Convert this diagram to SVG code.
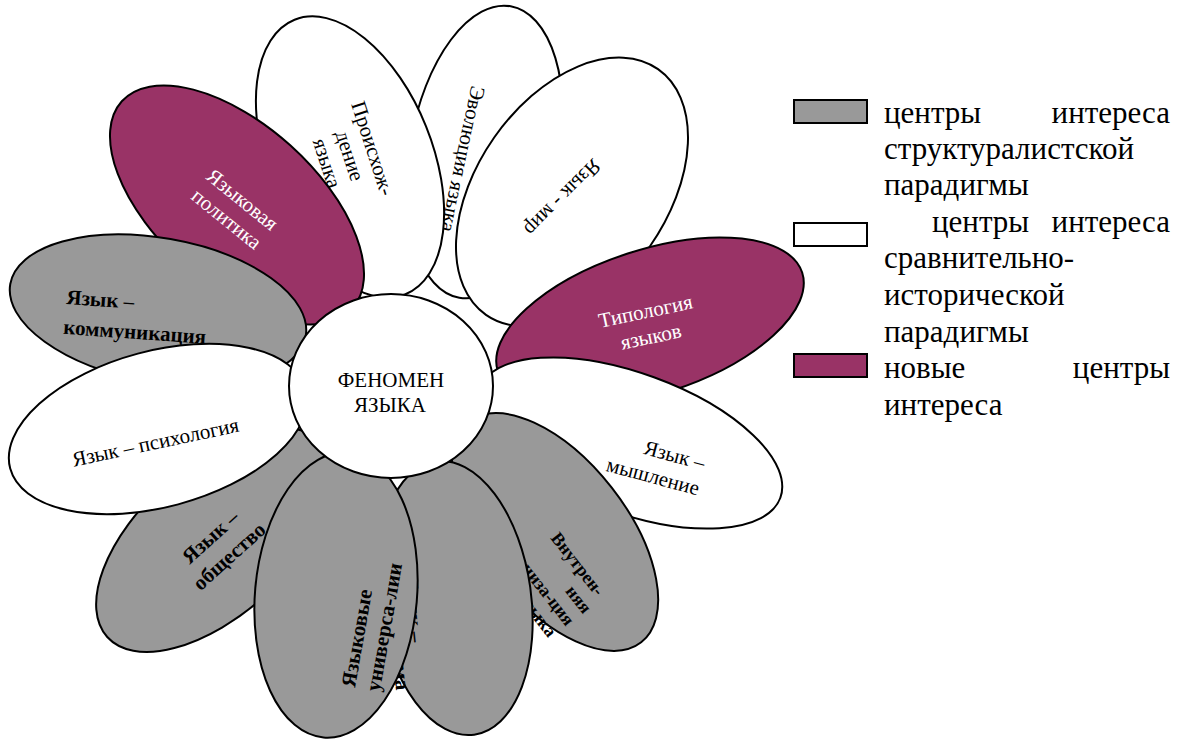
<svg xmlns="http://www.w3.org/2000/svg" width="1184" height="740" viewBox="0 0 1184 740">
<style>
.pw{fill:#ffffff;stroke:#000;stroke-width:2}
.pg{fill:#999999;stroke:#000;stroke-width:2}
.pp{fill:#993366;stroke:#000;stroke-width:2}
text{font-family:"Liberation Serif","Times New Roman",serif;fill:#000}
.t{font-size:21px}
.b{font-size:21px;font-weight:bold}
.bs{font-size:18px;font-weight:bold}
.w{fill:#ffffff}
.lg{font-size:31px}
.m{text-anchor:middle}
.e{text-anchor:end}
</style>
<rect width="1184" height="740" fill="#ffffff"/>
<g id="petals">
<g id="p-evolution">
<ellipse class="pw" cx="485" cy="152" rx="75" ry="148" transform="rotate(10 485 152)"/>
<text class="t m" transform="translate(462,159) rotate(102)" y="6">Эволюция языка</text>
</g>
<g id="p-mir">
<ellipse class="pw" cx="572" cy="192" rx="95" ry="150" transform="rotate(35 572 192)"/>
<text class="t m" transform="translate(562,197) rotate(135)" y="6">Язык - мир</text>
</g>
<g id="p-typology">
<ellipse class="pp" cx="650" cy="322" rx="160" ry="72" transform="rotate(-18 650 322)"/>
<g transform="translate(647,318) rotate(-12)"><text class="t m w" y="0">Типология</text><text class="t m w" y="26">языков</text></g>
</g>
<g id="p-thinking">
<ellipse class="pw" cx="630" cy="443" rx="160" ry="70" transform="rotate(20 630 443)"/>
<g transform="translate(703,470) rotate(15)"><text class="t e" y="0">Язык –</text><text class="t e" x="1" y="26">мышление</text></g>
</g>
<g id="p-internal">
<ellipse class="pg" cx="555" cy="532" rx="140" ry="72" transform="rotate(52 555 532)"/>
<g transform="translate(600,594) rotate(52)"><text class="bs e" y="5">Внутрен-</text><text class="bs e" x="6" y="26">няя</text><text class="bs e" x="5" y="47">организа-ция</text><text class="bs e" x="3" y="68">языка</text></g>
</g>
<g id="p-system">
<ellipse class="pg" cx="455" cy="598" rx="76" ry="138" transform="rotate(-8 455 598)"/>
<text class="b e" transform="translate(416,642) rotate(84)" y="6">Язык –</text>
<text class="b e" transform="translate(402,690) rotate(84)" y="6">система</text>
</g>
<g id="p-origin">
<ellipse class="pw" cx="350" cy="157" rx="82" ry="148" transform="rotate(-22 350 157)"/>
<g transform="translate(349,156) rotate(72)"><text class="t m" y="-18">Происхож-</text><text class="t m" y="6">дение</text><text class="t m" y="30">языка</text></g>
</g>
<g id="p-policy">
<ellipse class="pp" cx="237" cy="205" rx="155" ry="80" transform="rotate(42 237 205)"/>
<g transform="translate(238,205) rotate(39)"><text class="t m w" y="0">Языковая</text><text class="t m w" y="25">политика</text></g>
</g>
<g id="p-communication">
<ellipse class="pg" cx="158" cy="310" rx="150" ry="72" transform="rotate(10 158 310)"/>
<g transform="translate(66,304) rotate(4)"><text class="b" y="0">Язык –</text><text class="b" x="-1" y="30">коммуникация</text></g>
</g>
<g id="p-society">
<ellipse class="pg" cx="215" cy="540" rx="145" ry="75" transform="rotate(-42 215 540)"/>
<g transform="translate(215,542) rotate(-42)"><text class="b m" y="0">Язык –</text><text class="b m" x="1" y="27">общество</text></g>
</g>
<g id="p-universals">
<ellipse class="pg" cx="336" cy="595" rx="81" ry="143" transform="rotate(5 336 595)"/>
<g transform="translate(355,688) rotate(-80)"><text class="b" y="0">Языковые</text><text class="b" y="25">универса-лии</text></g>
</g>
<g id="p-psychology">
<ellipse class="pw" cx="158" cy="429" rx="153" ry="78" transform="rotate(-15 158 429)"/>
<text class="t m" transform="translate(157,449) rotate(-12)">Язык – психология</text>
</g>
</g>
<g id="center">
<ellipse class="pw" cx="391" cy="386" rx="102" ry="92"/>
<text class="t m" x="391" y="387">ФЕНОМЕН</text>
<text class="t m" x="390" y="412">ЯЗЫКА</text>
</g>
<g id="connectors"></g>
<g id="legend">
<rect class="pg" x="794" y="100" width="73" height="23"/>
<rect class="pw" x="794" y="223" width="73" height="23"/>
<rect class="pp" x="794" y="354" width="73" height="23"/>
<text class="lg" x="884" y="123">центры</text><text class="lg e" x="1170" y="123">интереса</text>
<text class="lg" x="884" y="159">структуралистской</text>
<text class="lg" x="884" y="195">парадигмы</text>
<text class="lg" x="932" y="232">центры</text><text class="lg e" x="1170" y="232">интереса</text>
<text class="lg" x="884" y="268">сравнительно-</text>
<text class="lg" x="884" y="305">исторической</text>
<text class="lg" x="884" y="342">парадигмы</text>
<text class="lg" x="884" y="378">новые</text><text class="lg e" x="1170" y="378">центры</text>
<text class="lg" x="884" y="415">интереса</text>
</g>
</svg>
